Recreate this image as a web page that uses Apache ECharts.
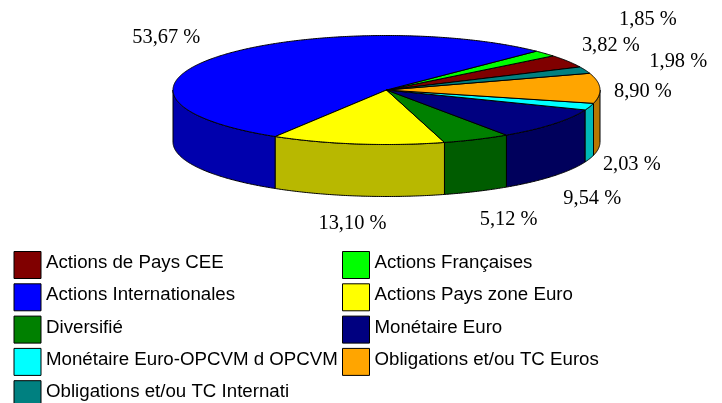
<!DOCTYPE html>
<html>
<head>
<meta charset="utf-8">
<style>
  html, body { margin: 0; padding: 0; background: #fff; }
  #chart { width: 722px; height: 403px; }
</style>
<script src="https://cdn.jsdelivr.net/npm/echarts@6/dist/echarts.min.js"></script>
</head>
<body>
<div id="chart"></div>
<script>
const categories = [
  "Actions de Pays CEE",
  "Actions Françaises",
  "Actions Internationales",
  "Actions Pays zone Euro",
  "Diversifié",
  "Monétaire Euro",
  "Monétaire Euro-OPCVM d OPCVM",
  "Obligations et/ou TC Euros",
  "Obligations et/ou TC Internati"
];
const values = [3.82, 1.85, 53.67, 13.1, 5.12, 9.54, 2.03, 8.9, 1.98];
const colors = ["#800000", "#00ff00", "#0000ff", "#ffff00", "#008000", "#000080", "#00ffff", "#ffa500", "#008080"];
const sideColors = ["#5c0000", "#00b800", "#0000ad", "#b8b800", "#005c00", "#00005c", "#00b8b8", "#b87700", "#005c5c"];

// the labels were placed by hand in the original, these are offsets from the slice edge
const labelNudges = [[43, -16], [103, -34], [-52, -19], [-5, 28], [32, 28], [39, 23], [42, 6], [43, 3], [93, -8]];

const cx = 386.5;
const cy = 90;
const rx = 213.5;
const ry = 54.5;
const depth = 52;
const startAngle = 25;

const total = values.reduce((a, b) => a + b, 0);

function edgePoint(deg, drop) {
  const rad = (deg * Math.PI) / 180;
  return [cx + rx * Math.cos(rad), cy - ry * Math.sin(rad) + drop];
}

function arcPoints(from, to, drop) {
  const pts = [];
  const steps = Math.max(2, Math.ceil(Math.abs(to - from) * 2));
  for (let i = 0; i <= steps; i++) {
    pts.push(edgePoint(from + ((to - from) * i) / steps, drop));
  }
  return pts;
}

// part of the slice that faces the viewer, lower half of the ellipse only
function wallRange(a0, a1) {
  for (const [lo, hi] of [[180, 360], [540, 720]]) {
    const from = Math.max(a0, lo);
    const to = Math.min(a1, hi);
    if (from < to) return [from, to];
  }
  return null;
}

function sliceItem(index, a0, a1) {
  const stroke = { stroke: "#000", lineWidth: 1 };
  const children = [];
  const wall = wallRange(a0, a1);
  if (wall) {
    children.push({
      type: "polygon",
      shape: { points: arcPoints(wall[0], wall[1], 0).concat(arcPoints(wall[1], wall[0], depth)) },
      style: { fill: sideColors[index], ...stroke }
    });
  }
  children.push({
    type: "polygon",
    shape: { points: [[cx, cy]].concat(arcPoints(a0, a1, 0)) },
    style: { fill: colors[index], ...stroke }
  });
  const mid = (a0 + a1) / 2;
  const lower = Math.sin((mid * Math.PI) / 180) < 0;
  const anchor = edgePoint(mid, lower ? depth : 0);
  children.push({
    type: "text",
    style: {
      x: anchor[0] + labelNudges[index][0],
      y: anchor[1] + labelNudges[index][1],
      text: values[index].toFixed(2).replace(".", ",") + " %",
      align: "center",
      verticalAlign: "middle",
      fontFamily: "Liberation Serif",
      fontSize: 20.4,
      fill: "#000"
    }
  });
  return { type: "group", children };
}

let running = startAngle;
const series = categories.map((name, index) => {
  const a0 = running;
  const a1 = a0 + (values[index] / total) * 360;
  running = a1;
  return {
    name,
    type: "custom",
    coordinateSystem: "none",
    data: [values[index]],
    itemStyle: { color: colors[index] },
    renderItem: () => sliceItem(index, a0, a1)
  };
});

function legendColumn(left, names) {
  return {
    orient: "vertical",
    left,
    top: 251,
    height: 220,
    itemWidth: 27,
    itemHeight: 27,
    itemGap: 4.3,
    padding: 0,
    icon: "rect",
    data: names,
    selectedMode: false,
    itemStyle: { borderColor: "#000", borderWidth: 1, borderJoin: "miter" },
    formatter: "{t|{name}}",
    textStyle: {
      rich: {
        t: { fontFamily: "Liberation Sans", fontSize: 18.7, color: "#000", padding: [0, 0, 4, 0] }
      }
    }
  };
}

const chart = echarts.init(document.getElementById("chart"));
chart.setOption({
  animation: false,
  color: colors,
  legend: [
    legendColumn(13.5, categories.filter((_, i) => i % 2 === 0)),
    legendColumn(342, categories.filter((_, i) => i % 2 === 1))
  ],
  series
});
</script>
</body>
</html>
